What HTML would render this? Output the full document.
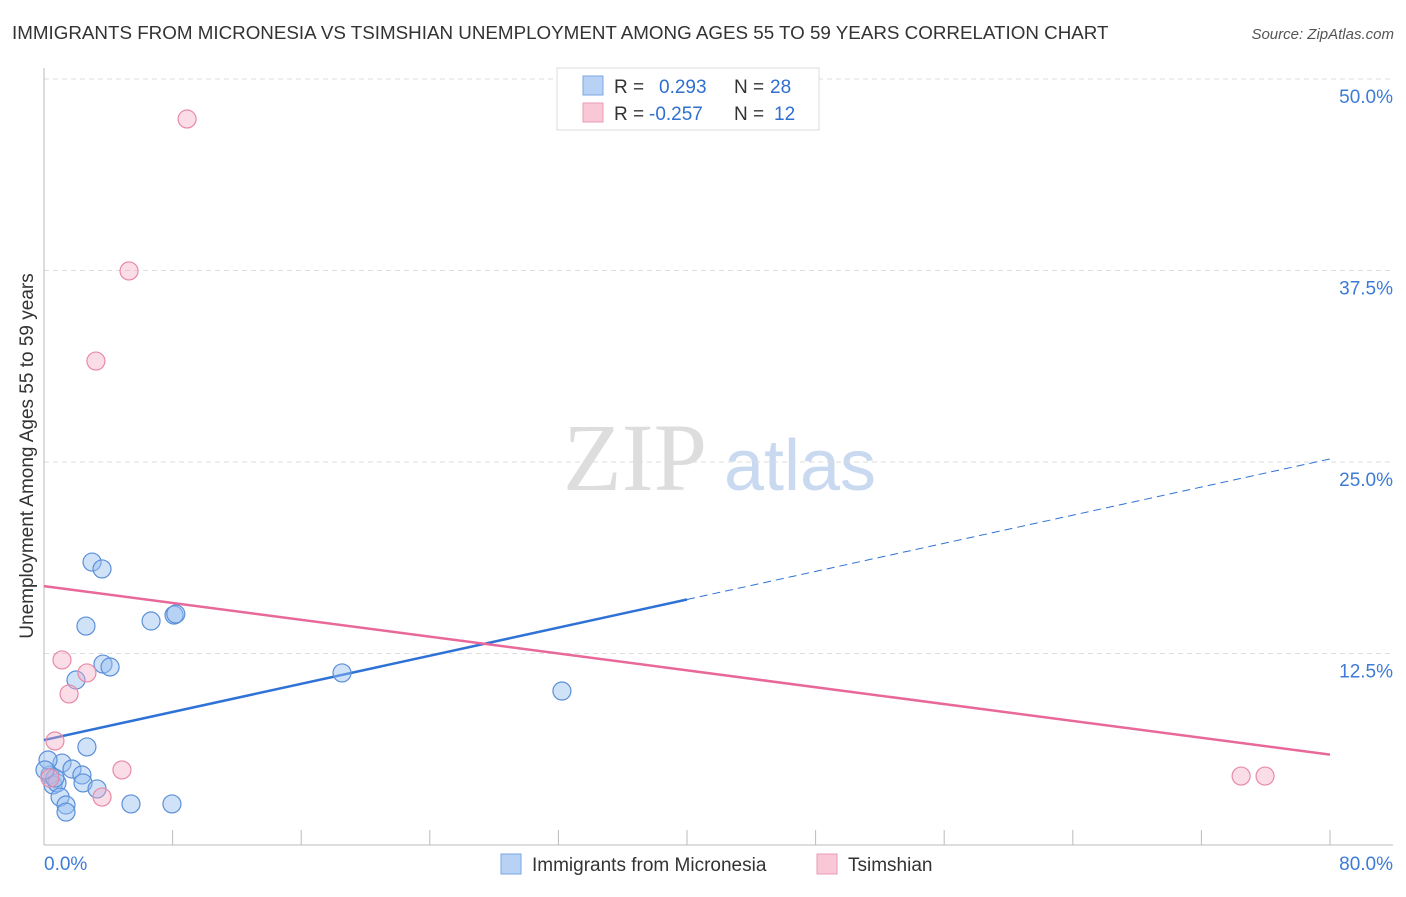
<!DOCTYPE html>
<html><head><meta charset="utf-8"><style>
body{margin:0;background:#fff;font-family:"Liberation Sans",sans-serif;}
</style></head><body>
<svg id="chart" width="1406" height="892" xmlns="http://www.w3.org/2000/svg" font-family="Liberation Sans, sans-serif">
<text x="12" y="39" font-size="18.8" fill="#333">IMMIGRANTS FROM MICRONESIA VS TSIMSHIAN UNEMPLOYMENT AMONG AGES 55 TO 59 YEARS CORRELATION CHART</text>
<text x="1394" y="39" font-size="15" fill="#555" text-anchor="end" font-style="italic">Source: ZipAtlas.com</text>
<text transform="translate(33,456) rotate(-90)" font-size="19" fill="#333" text-anchor="middle">Unemployment Among Ages 55 to 59 years</text>
<g><text x="635" y="490" font-size="96" fill="#ddd" text-anchor="middle" font-family="Liberation Serif, serif">ZIP</text><text x="800" y="490" font-size="72" fill="#c9d9f0" text-anchor="middle">atlas</text></g>
<g id="grid"></g><g id="axes"></g><g id="lines"></g><g id="pts"></g>
<g>
<rect x="557" y="68" width="262" height="62" fill="#fff" stroke="#ddd"/>
<rect x="583" y="76" width="20" height="19" fill="#b8d2f5" stroke="#7aa6e3"/>
<rect x="583" y="103" width="20" height="19" fill="#f9c8d6" stroke="#eb9ab3"/>
<text x="614" y="93" font-size="19" fill="#333">R =</text><text x="659" y="93" font-size="19" fill="#2f6fd0">0.293</text>
<text x="734" y="93" font-size="19" fill="#333">N =</text><text x="770" y="93" font-size="19" fill="#2f6fd0">28</text>
<text x="614" y="120" font-size="19" fill="#333">R =</text><text x="649" y="120" font-size="19" fill="#2f6fd0">-0.257</text>
<text x="734" y="120" font-size="19" fill="#333">N =</text><text x="774" y="120" font-size="19" fill="#2f6fd0">12</text>
</g>
<g>
<rect x="501" y="854" width="20" height="20" fill="#b8d2f5" stroke="#7aa6e3"/>
<text x="532" y="871" font-size="19" fill="#333">Immigrants from Micronesia</text>
<rect x="817" y="854" width="20" height="20" fill="#f9c8d6" stroke="#eb9ab3"/>
<text x="848" y="871" font-size="19" fill="#333">Tsimshian</text>
</g>
<text x="44" y="870" font-size="19" fill="#3d7bd6">0.0%</text>
<text x="1393" y="870" font-size="19" fill="#3d7bd6" text-anchor="end">80.0%</text>
</svg>
<script>
const yTicks=[12.5,25,37.5,50];
const yTickLabels=["12.5%","25.0%","37.5%","50.0%"];
const blueX=[2.99,3.61,2.61,6.66,8.09,8.2,3.67,4.11,1.99,18.54,32.22,2.67,1.12,1.74,0.37,0.56,0.81,2.36,2.43,3.30,1.00,1.37,1.37,5.41,7.96,0.25,0.68,0.06];
const blueY=[18.47,18.02,14.29,14.62,15.01,15.08,11.81,11.62,10.77,11.23,10.05,6.40,5.35,4.96,4.57,3.92,4.05,4.57,4.05,3.66,3.13,2.61,2.15,2.68,2.68,5.55,4.37,4.90];
const pinkX=[8.90,5.29,3.23,1.12,2.67,1.56,0.68,4.85,3.61,0.37,74.47,75.96];
const pinkY=[47.39,37.47,31.59,12.08,11.23,9.86,6.79,4.90,3.13,4.37,4.50,4.50];
const blueTrend=[6.85,25.2]; const blueSolidEnd=40;
const pinkTrend=[16.9,5.9];
const NS="http://www.w3.org/2000/svg";
const X=v=>44+v/80*1286, Y=v=>845-v/50*766;
function mk(p,t,a){const e=document.createElementNS(NS,t);for(const k in a)e.setAttribute(k,a[k]);document.getElementById(p).appendChild(e);return e;}
yTicks.forEach((t,i)=>{
 const g=mk('grid','line',{x1:44,x2:1393,y1:Y(t),y2:Y(t),stroke:'#ddd','stroke-dasharray':'5,4'});
 
 
 const l=mk('grid','text',{x:1393,y:Y(t)+24,'font-size':19,fill:'#3d7bd6','text-anchor':'end'});
 l.textContent=yTickLabels[i];
 
 
});
let a=mk('axes','line',{x1:44,x2:44,y1:68,y2:845,stroke:'#bbb'});


a=mk('axes','line',{x1:44,x2:1393,y1:845,y2:845,stroke:'#bbb'});


for(let i=0;i<=10;i++){const t=mk('axes','line',{x1:X(i*8),x2:X(i*8),y1:830,y2:845,stroke:'#bbb'});
 
 }
const by=v=>blueTrend[0]+(blueTrend[1]-blueTrend[0])*v/80;
let ln=mk('lines','line',{x1:X(0),y1:Y(by(0)),x2:X(blueSolidEnd),y2:Y(by(blueSolidEnd)),stroke:'#2f72d6','stroke-width':2.5});


ln=mk('lines','line',{x1:X(blueSolidEnd),y1:Y(by(blueSolidEnd)),x2:X(80),y2:Y(by(80)),stroke:'#2f72d6','stroke-width':1,'stroke-dasharray':'8,5'});


ln=mk('lines','line',{x1:X(0),y1:Y(pinkTrend[0]),x2:X(80),y2:Y(pinkTrend[1]),stroke:'#e8689a','stroke-width':2.5});


blueX.forEach((x,i)=>{const c=mk('pts','circle',{cx:X(x),cy:Y(blueY[i]),r:9,fill:'rgba(150,190,240,0.45)',stroke:'#5b8fd9','stroke-width':1.2});
 
 });
pinkX.forEach((x,i)=>{const c=mk('pts','circle',{cx:X(x),cy:Y(pinkY[i]),r:9,fill:'rgba(245,170,195,0.4)',stroke:'#e88aa5','stroke-width':1.2});
 
 });
</script>
</body></html>
